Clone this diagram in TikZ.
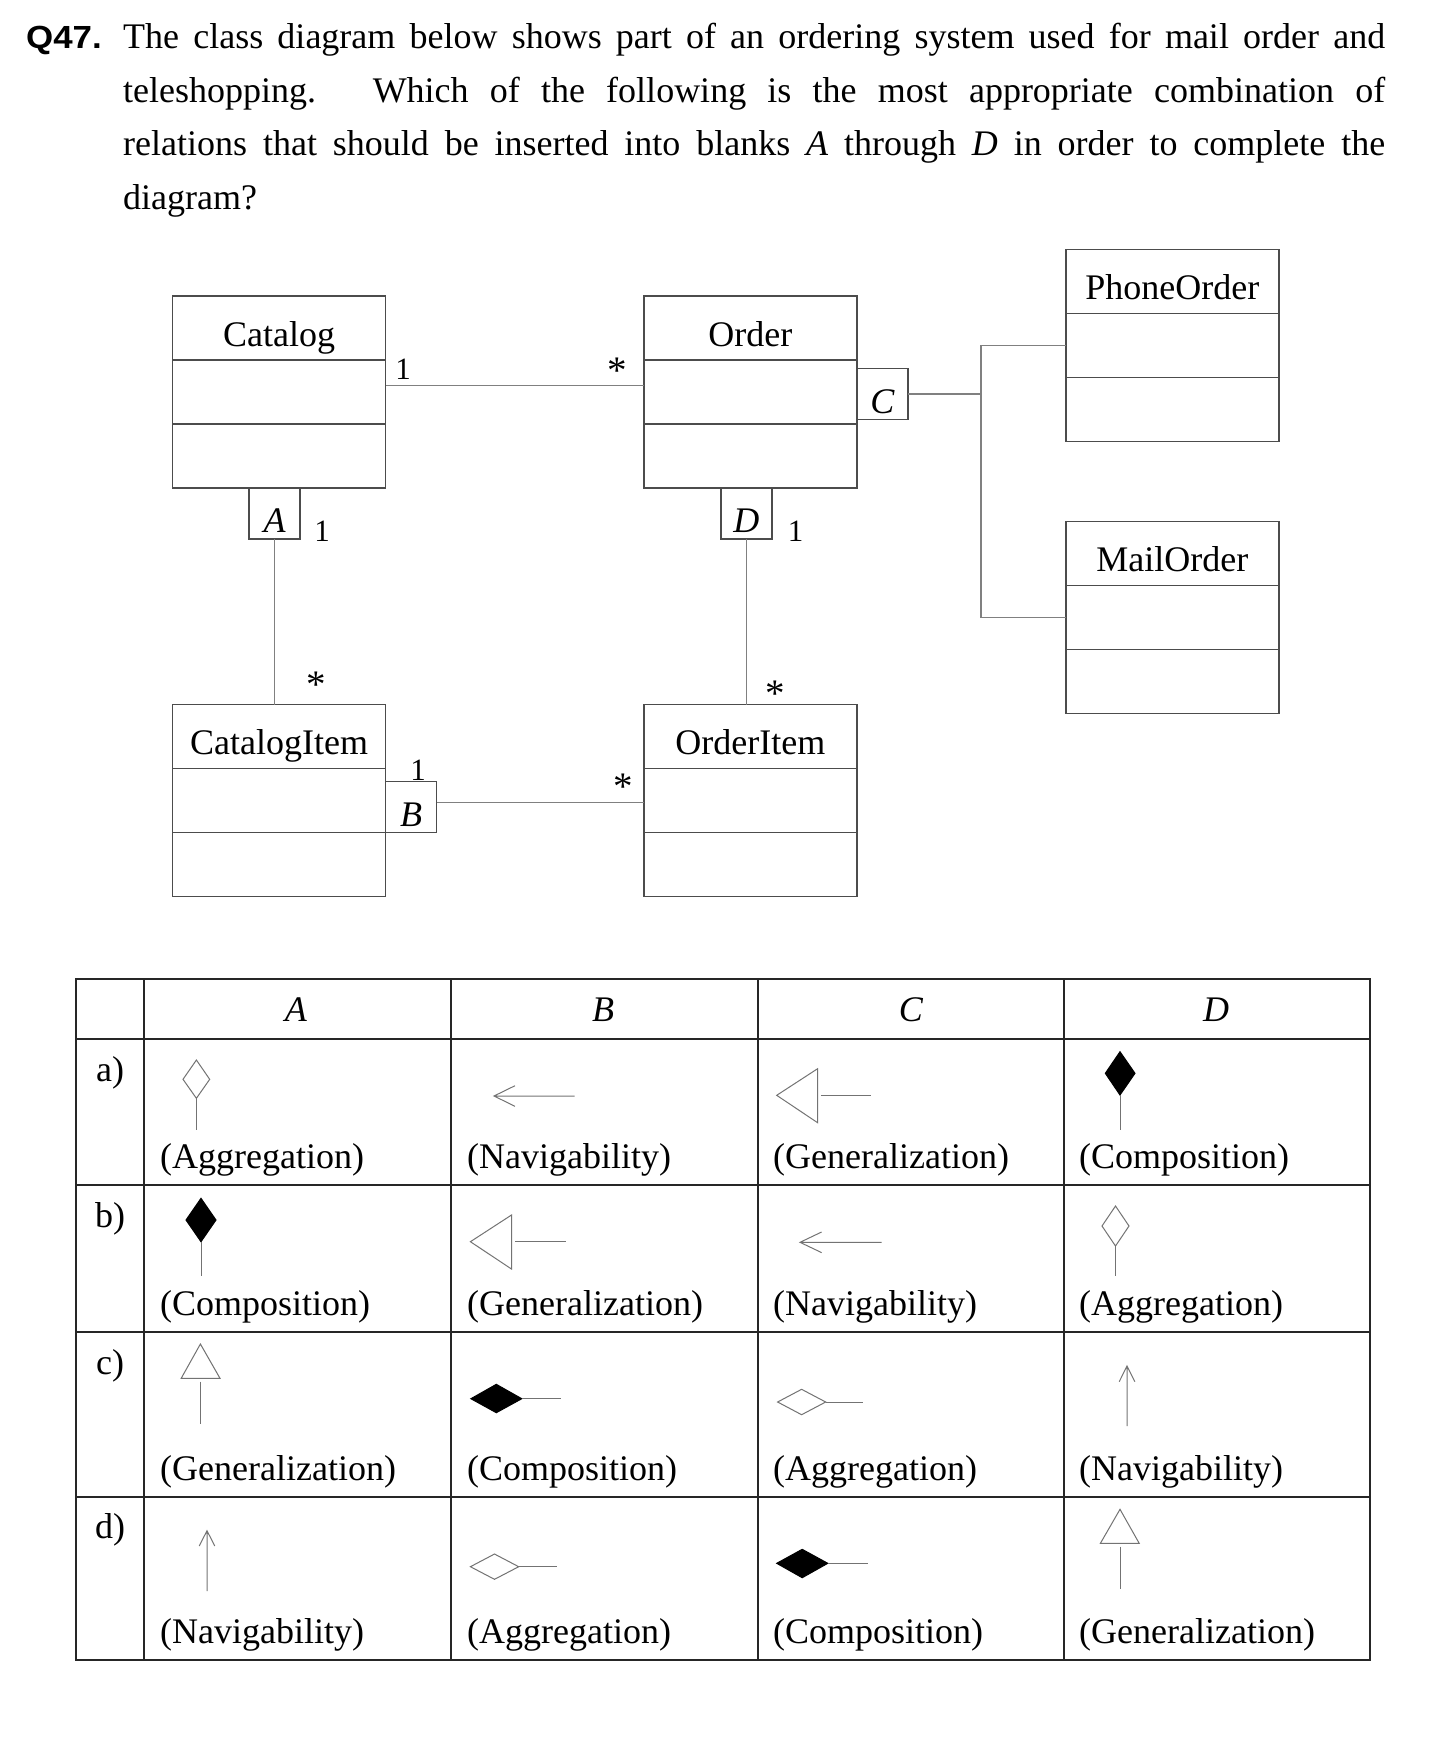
\documentclass[tikz,border=0pt]{standalone}
\usepackage{fontspec}
\setmainfont{Liberation Serif}
\newfontfamily\qfont[FakeStretch=1.09]{Liberation Sans}
\usetikzlibrary{positioning}
\definecolor{boxc}{gray}{0.3}
\definecolor{linkc}{gray}{0.5}
\definecolor{tablec}{gray}{0.15}
\definecolor{symc}{gray}{0.45}
\tikzset{
  hdr/.style={draw=boxc, line width=1.4pt, minimum width=213pt, minimum height=64pt, inner sep=0pt, outer sep=0pt,
    text height=40pt, text depth=4pt, font=\fontsize{36}{36}\selectfont},
  cmp/.style={draw=boxc, line width=1.4pt, minimum width=213pt, minimum height=64pt, inner sep=0pt, outer sep=0pt},
  blank/.style={draw=boxc, line width=1.4pt, minimum size=51pt, inner sep=0pt, outer sep=0pt,
    text height=41pt, text depth=3pt, font=\fontsize{36}{36}\selectfont\itshape},
  mult/.style={inner sep=0pt, font=\fontsize{31}{31}\selectfont},
  star/.style={inner sep=0pt, font=\fontsize{39}{39}\selectfont},
  link/.style={draw=linkc, line width=1.4pt},
  tbl/.style={draw=tablec, line width=2pt},
  capt/.style={anchor=base west, inner sep=0pt, font=\fontsize{36}{36}\selectfont},
  lbl/.style={anchor=base, inner sep=0pt, font=\fontsize{36}{36}\selectfont},
  sym/.style={draw=symc, line width=1pt},
  hollow/.style={draw=symc, line width=1pt, fill=white},
  blackdia/.style={draw=black, line width=1pt, fill=black}
}
\begin{document}
\begin{tikzpicture}[x=1pt,y=-1pt,line join=miter]
\useasboundingbox (0,0) rectangle (1449,1757);
% question
\node[anchor=base west, inner sep=0pt, font=\fontsize{32}{32}\selectfont\qfont\bfseries] (qn) at (26,48.3) {Q47.};
\node[anchor=base west, inner sep=0pt, text width=1262pt, align=justify,
  font=\fontsize{36}{53.8}\selectfont] (q) at (123,48.3)
  {The class diagram below shows part of an ordering system used for mail order and\linebreak
   teleshopping.\hspace{8pt} Which of the following is the most appropriate combination of\linebreak
   relations that should be inserted into blanks \textit{A} through \textit{D} in order to complete the\linebreak
   diagram?};

% classes
\node[hdr] (cat) at (279,328) {Catalog};
\node[cmp, below=0pt of cat] (catA) {};
\node[cmp, below=0pt of catA] (catO) {};
\node[hdr, right=258.4pt of cat] (ord) {Order};
\node[cmp, below=0pt of ord] (ordA) {};
\node[cmp, below=0pt of ordA] (ordO) {};
\node[hdr, below=216.7pt of catO] (ci) {CatalogItem};
\node[cmp, below=0pt of ci] (ciA) {};
\node[cmp, below=0pt of ciA] (ciO) {};
\node[hdr, below=216.7pt of ordO] (oi) {OrderItem};
\node[cmp, below=0pt of oi] (oiA) {};
\node[cmp, below=0pt of oiA] (oiO) {};
\node[hdr] (ph) at (1172.3,281.3) {PhoneOrder};
\node[cmp, below=0pt of ph] (phA) {};
\node[cmp, below=0pt of phA] (phO) {};
\node[hdr, below=80.4pt of phO] (ml) {MailOrder};
\node[cmp, below=0pt of ml] (mlA) {};
\node[cmp, below=0pt of mlA] (mlO) {};

% blanks
\node[blank, anchor=north] (bA) at ([xshift=-4.5pt]catO.south) {A};
\node[blank, anchor=north] (bD) at ([xshift=-4pt]ordO.south) {D};
\node[blank, anchor=west] (bC) at ([yshift=-2pt]ordA.east) {C};
\node[blank, anchor=south west] (bB) at (ciA.south east) {B};

% associations
\coordinate (co) at ([yshift=6.5pt]catA.east);
\draw[link] (co) -- (co -| ordA.west);
\node[mult] (m1) at (403,369) {1};
\node[star] (m2) at (617,370.5) {*};
\draw[link] (bA.south) -- (bA.south |- ci.north);
\node[mult] (m3) at (322,531) {1};
\node[star] (m4) at (316.7,685) {*};
\draw[link] (bD.south) -- (bD.south |- oi.north);
\node[mult] (m5) at (795.7,531) {1};
\node[star] (m6) at (774.8,694) {*};
\coordinate (bo) at ([yshift=4.5pt]bB.east);
\draw[link] (bo) -- (bo -| oiA.west);
\node[mult] (m7) at (418,770.7) {1};
\node[star] (m8) at (623.6,786.5) {*};
\coordinate (bus) at (981,394);
\draw[link] (bC.east) -- (bus);
\draw[link] (phA.west) -| (bus) |- (mlA.west);

% table
\draw[tbl] (76,978.5) rectangle (1369.5,1659.5);
\foreach \x in {143.5,450.5,757.5,1063.5} \draw[tbl] (\x,978.5) -- (\x,1659.5);
\foreach \y in {1039,1185,1332,1497} \draw[tbl] (76,\y) -- (1369.5,\y);
\foreach \x/\t in {296/A,603/B,911/C,1216/D} \node[lbl] (h\t) at (\x,1021.5) {\textit{\t}};
\foreach \y/\t in {1081/a,1227/b,1374/c,1538/d} \node[lbl] (r\t) at (110,\y) {\t)};
\foreach \x/\t [count=\i] in {160/Aggregation,467/Navigability,773/Generalization,1079/Composition}
  \node[capt] (a\i) at (\x,1168) {(\t)};
\foreach \x/\t [count=\i] in {160/Composition,467/Generalization,773/Navigability,1079/Aggregation}
  \node[capt] (b\i) at (\x,1315) {(\t)};
\foreach \x/\t [count=\i] in {160/Generalization,467/Composition,773/Aggregation,1079/Navigability}
  \node[capt] (c\i) at (\x,1480) {(\t)};
\foreach \x/\t [count=\i] in {160/Navigability,467/Aggregation,773/Composition,1079/Generalization}
  \node[capt] (d\i) at (\x,1643) {(\t)};

% row a
\draw[hollow] (196.4,1060) -- (209.7,1079.3) -- (196.4,1098.3) -- (183,1079.3) -- cycle;
\draw[sym] (196.4,1098.3) -- (196.4,1130);
\draw[sym] (574.5,1096) -- (494,1096) (515,1085.7) -- (494,1096) -- (515,1106.3);
\draw[hollow] (776.7,1095.3) -- (817.6,1068.7) -- (817.6,1122.7) -- cycle;
\draw[sym] (820.8,1095.3) -- (871.4,1095.3);
\draw[blackdia] (1120,1051.7) -- (1135,1073.3) -- (1120,1095) -- (1105.3,1073.3) -- cycle;
\draw[sym] (1120,1095) -- (1120,1130);
% row b
\draw[blackdia] (201,1198.3) -- (216,1220) -- (201,1241.7) -- (186,1220) -- cycle;
\draw[sym] (201,1241.7) -- (201,1276);
\draw[hollow] (470.4,1241.7) -- (511.5,1215) -- (511.5,1269) -- cycle;
\draw[sym] (515,1241.7) -- (565.5,1241.7);
\draw[sym] (881.6,1242.3) -- (800,1242.3) (821.6,1232) -- (800,1242.3) -- (821.6,1252.6);
\draw[hollow] (1115.5,1206) -- (1129,1226) -- (1115.5,1246) -- (1102,1226) -- cycle;
\draw[sym] (1115.5,1246) -- (1115.5,1276);
% row c
\draw[hollow] (200.4,1344) -- (220,1378.3) -- (181.2,1378.3) -- cycle;
\draw[sym] (200.4,1381.7) -- (200.4,1424.3);
\draw[blackdia] (470.9,1398.7) -- (496.3,1384.3) -- (521.8,1398.7) -- (496.3,1412.7) -- cycle;
\draw[sym] (521.8,1398.7) -- (561,1398.7);
\draw[hollow] (777.6,1402) -- (801.6,1389.3) -- (825.7,1402) -- (801.6,1414.7) -- cycle;
\draw[sym] (825.7,1402) -- (863.3,1402);
\draw[sym] (1127,1426) -- (1127,1366) (1119.2,1381.7) -- (1127,1366) -- (1134.8,1381.7);
% row d
\draw[sym] (207,1591) -- (207,1530.7) (199.2,1546) -- (207,1530.7) -- (214.8,1546);
\draw[hollow] (470.4,1566.7) -- (494.5,1554) -- (518.7,1566.7) -- (494.5,1579.3) -- cycle;
\draw[sym] (518.7,1566.7) -- (556.6,1566.7);
\draw[blackdia] (776.7,1563.3) -- (802.2,1549.3) -- (827.8,1563.3) -- (802.2,1577.7) -- cycle;
\draw[sym] (827.8,1563.3) -- (867.8,1563.3);
\draw[hollow] (1120,1509.3) -- (1139.2,1543.3) -- (1100.4,1543.3) -- cycle;
\draw[sym] (1120,1546.7) -- (1120,1588.7);
\end{tikzpicture}
\end{document}
